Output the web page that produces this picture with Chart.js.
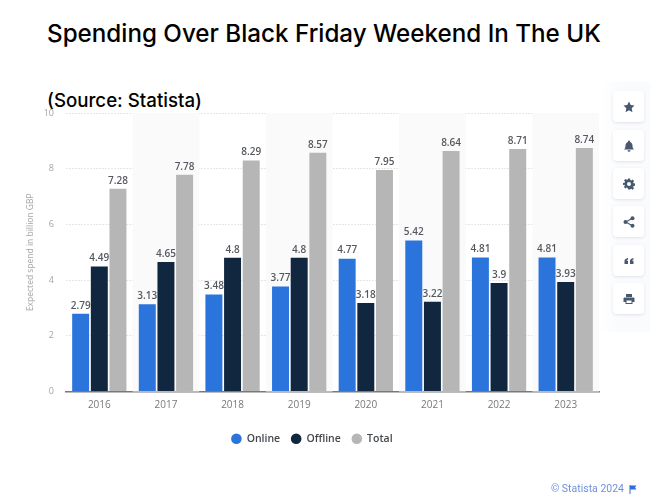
<!DOCTYPE html>
<html>
<head>
<meta charset="utf-8">
<title>Spending Over Black Friday Weekend In The UK</title>
<script src="https://cdn.jsdelivr.net/npm/chart.js@4"></script>
<style>
html, body { margin: 0; padding: 0; background: #fff; width: 650px; height: 500px; overflow: hidden; font-family: Inter, sans-serif; }
#title { position: absolute; left: 47px; top: 18px; font-size: 24.2px; font-weight: 500; color: #000; white-space: nowrap; line-height: 32px; }
#source { position: absolute; left: 47px; top: 89px; font-size: 18.7px; font-weight: 500; color: #000; white-space: nowrap; line-height: 24px; }
#chartBox { position: absolute; left: 0; top: 0; width: 616px; height: 500px; }
#sidePanel { position: absolute; left: 600px; top: 82px; width: 50px; height: 250px; background: linear-gradient(to right, #fff, #fafbfd 40%); }
.card { position: absolute; left: 13px; width: 31px; height: 31px; background: #fff; border-radius: 4px; box-shadow: 0 1px 3px rgba(40,60,90,.12); display: flex; align-items: center; justify-content: center; }
.card svg { width: 12px; height: 12px; fill: #47586f; }
#credit { position: absolute; left: 551px; top: 482px; font-size: 10.5px; color: #6f8fdf; white-space: nowrap; line-height: 14px; font-family: Roboto, sans-serif; }
#flag { position: absolute; left: 629px; top: 485px; width: 8px; height: 9px; fill: #2a6fdb; }
</style>
</head>
<body>
<div id="title">Spending Over Black Friday Weekend In The UK</div>
<div id="source">(Source: Statista)</div>
<div id="chartBox"><canvas id="spendChart"></canvas></div>

<div id="sidePanel">
    <div class="card" style="top:9px"><svg viewBox="0 0 24 24"><path d="M12 1l3.4 7.2 7.6 1-5.6 5.4 1.5 7.8L12 18.6l-6.9 3.8 1.5-7.8L1 9.200l7.600-1z"/></svg></div>
    <div class="card" style="top:48px"><svg viewBox="0 0 24 24"><path d="M12 1a2 2 0 0 1 2 2v1c3.500 1 5 4 5 7 0 4 1 6 3 8H2c2-2 3-4 3-8 0-3 1.500-6 5-7V3a2 2 0 0 1 2-2zM9 20.500h6a3 3 0 0 1-6 0z"/></svg></div>
    <div class="card" style="top:86px"><svg viewBox="0 0 24 24"><path fill-rule="evenodd" d="M10 1h4l.6 3.200 2 .8 2.700-1.800 2.800 2.800-1.800 2.700.8 2 3.200.6v4l-3.200.6-.8 2 1.800 2.700-2.800 2.800-2.700-1.800-2 .8L14 23h-4l-.6-3.200-2-.8-2.700 1.800-2.800-2.800 1.800-2.700-.8-2L0 14v-4l3.200-.6.8-2L2.200 4.700 5 1.900l2.700 1.800 2-.8zM12 8a4 4 0 1 0 0 8 4 4 0 0 0 0-8z"/></svg></div>
    <div class="card" style="top:124px"><svg viewBox="0 0 24 24"><circle cx="19" cy="4.500" r="4"/><circle cx="5" cy="12" r="4"/><circle cx="19" cy="19.500" r="4"/><path d="M6 10.500l12-7 1 1.800-12 7zM7 11.500l12 7-1 1.800-12-7z"/></svg></div>
    <div class="card" style="top:163px"><svg viewBox="0 0 24 24"><path d="M3 18v-6c0-3 2-5 7-6v3c-2 .5-2.500 1.200-2.500 2.500H10V18zM14 18v-6c0-3 2-5 7-6v3c-2 .5-2.500 1.200-2.500 2.500H21V18z"/></svg></div>
    <div class="card" style="top:201px"><svg viewBox="0 0 24 24"><path fill-rule="evenodd" d="M6 2h12v6H6zM3 9h18a2 2 0 0 1 2 2v7h-4v4H5v-4H1v-7a2 2 0 0 1 2-2zM7 15v5h10v-5z"/></svg></div>
</div>

<div id="credit">© Statista 2024</div>
<svg id="flag" viewBox="0 0 16 18"><path d="M1 0h2v18H1zM3 1h12l-3 4 3 4H3z"/></svg>

<script>
const years = ['2016', '2017', '2018', '2019', '2020', '2021', '2022', '2023'];
const online = [2.79, 3.13, 3.48, 3.77, 4.77, 5.42, 4.81, 4.81];
const offline = [4.49, 4.65, 4.8, 4.8, 3.18, 3.22, 3.9, 3.93];
const total = [7.28, 7.78, 8.29, 8.57, 7.95, 8.64, 8.71, 8.74];

// every second year gets a faint grey band behind it
const bandPlugin = {
    id: 'bands',
    beforeDatasetsDraw(chart) {
        const { ctx, chartArea, scales } = chart;
        const step = scales.x.getPixelForValue(1) - scales.x.getPixelForValue(0);
        ctx.save();
        ctx.fillStyle = '#fafafa';
        years.forEach((y, i) => {
            if (i % 2 === 1) {
                ctx.fillRect(scales.x.getPixelForValue(i) - step / 2, chartArea.top, step, chartArea.height);
            }
        });
        ctx.restore();
    }
};

const valueLabels = {
    id: 'valueLabels',
    afterDatasetsDraw(chart) {
        const ctx = chart.ctx;
        ctx.save();
        ctx.font = '600 10px "Open Sans", sans-serif';
        ctx.fillStyle = '#55595f';
        ctx.textAlign = 'center';
        ctx.textBaseline = 'bottom';
        chart.data.datasets.forEach((ds, d) => {
            chart.getDatasetMeta(d).data.forEach((bar, i) => {
                ctx.fillText(String(ds.data[i]), bar.x, bar.y - 3);
            });
        });
        ctx.restore();
    }
};

new Chart(document.getElementById('spendChart').getContext('2d'), {
    type: 'bar',
    data: {
        labels: years,
        datasets: [
            { label: 'Online', data: online, backgroundColor: '#2a74dc' },
            { label: 'Offline', data: offline, backgroundColor: '#11273f' },
            { label: 'Total', data: total, backgroundColor: '#b6b6b6' }
        ]
    },
    options: {
        responsive: true,
        maintainAspectRatio: false,
        animation: false,
        layout: { padding: { top: 113, left: 25, right: 17, bottom: 46 } },
        datasets: { bar: { barPercentage: 0.91, categoryPercentage: 0.84 } },
        plugins: {
            tooltip: { enabled: false },
            legend: {
                position: 'bottom',
                labels: {
                    usePointStyle: true,
                    pointStyle: 'circle',
                    boxWidth: 10,
                    boxHeight: 7.5,
                    padding: 11,
                    color: '#43474d',
                    font: { family: '"Open Sans", sans-serif', size: 10.5, weight: '600' }
                }
            }
        },
        scales: {
            x: {
                grid: { display: false, drawTicks: false },
                border: { color: '#77797c', width: 1.5 },
                ticks: { color: '#77797c', font: { family: '"Open Sans", sans-serif', size: 10 }, padding: 8 },
                afterFit(scale) { scale.height = 31; }
            },
            y: {
                min: 0,
                max: 10,
                ticks: { stepSize: 2, color: '#a2a4a7', font: { family: '"Open Sans", sans-serif', size: 9 }, padding: 12 },
                grid: { color: '#e6e6e6', lineWidth: 1, drawTicks: false },
                border: { display: false, dash: [2, 1] },
                title: {
                    display: true,
                    text: 'Expected spend in billion GBP',
                    color: '#a2a4a7',
                    font: { family: '"Open Sans", sans-serif', size: 8.5 },
                    padding: 0
                },
                afterFit(scale) { scale.width = 41; }
            }
        }
    },
    plugins: [bandPlugin, valueLabels]
});
</script>
</body>
</html>
